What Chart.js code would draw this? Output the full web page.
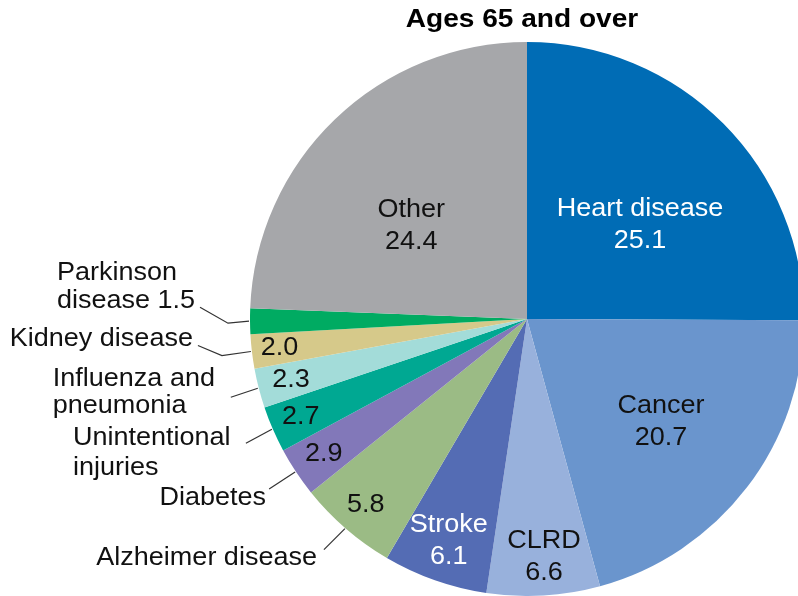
<!DOCTYPE html>
<html>
<head>
<meta charset="utf-8">
<script src="https://cdn.jsdelivr.net/npm/chart.js@4"></script>
<style>
    html, body { margin: 0; padding: 0; background: #fff; overflow: hidden; }
    #wrap { width: 820px; height: 596px; }
</style>
</head>
<body>
<div id="wrap"><canvas id="pieChart" width="820" height="596"></canvas></div>
<script>
    // Data
    const causes = ['Heart disease', 'Cancer', 'CLRD', 'Stroke', 'Alzheimer disease', 'Diabetes',
        'Unintentional injuries', 'Influenza and pneumonia', 'Kidney disease', 'Parkinson disease', 'Other'];
    const percents = [25.1, 20.7, 6.6, 6.1, 5.8, 2.9, 2.7, 2.3, 2.0, 1.5, 24.4];
    const sliceColors = ['#006cb5', '#6a95cd', '#98b1dc', '#546cb4', '#9bbb85', '#8278b9',
        '#00a892', '#a3dcd9', '#d6c98a', '#00ab62', '#a6a7aa'];
    const chartTitle = 'Ages 65 and over';

    // Label layout: inside labels sit at a fraction of the radius (plus a small nudge),
    // outside labels hang off a leader line from the slice edge
    const labelLayout = [
        { inside: 0.53, nudge: [9, 10], color: '#fff', name: true },
        { inside: 0.61, color: '#111', name: true },
        { inside: 0.85, nudge: [3, 3], color: '#111', name: true },
        { inside: 0.85, color: '#fff', name: true },
        { inside: 0.89, color: '#111', out: { lines: ['Alzheimer disease'], leader: [[-22, 21]], align: 'right', dx: -29, dy: [29] } },
        { inside: 0.88, color: '#111', out: { lines: ['Diabetes'], leader: [[-27, 17]], align: 'right', dx: -30, dy: [26] } },
        { inside: 0.89, color: '#111', out: { lines: ['Unintentional', 'injuries'], leader: [[-27, 14]], align: 'left', dx: -200, dy: [9, 39] } },
        { inside: 0.88, color: '#111', out: { lines: ['Influenza and', 'pneumonia'], leader: [[-28, 9]], align: 'left', dx: -206, dy: [-9, 18] } },
        { inside: 0.90, color: '#111', out: { lines: ['Kidney disease'], leader: [[-30, 4], [-54, -6]], align: 'right', dx: -59, dy: [-12] } },
        { inside: null, out: { lines: ['Parkinson', 'disease {v}'], leader: [[-22, 2], [-50, -14]], align: 'left', dx: -193, dy: [-48, -20] } },
        { inside: 0.54, nudge: [-12, 15], color: '#111', name: true }
    ];

    const FONT = '25px "Liberation Sans", Arial, sans-serif';
    const STRETCH = 1.08;

    function drawText(ctx, text, x, y, align) {
        ctx.save();
        ctx.translate(x, y);
        ctx.scale(STRETCH, 1);
        ctx.textAlign = align;
        ctx.fillText(text, 0, 0);
        ctx.restore();
    }

    const pieLabels = {
        id: 'pieLabels',
        afterDatasetsDraw(chart) {
            const ctx = chart.ctx;
            const meta = chart.getDatasetMeta(0);
            ctx.save();
            ctx.textBaseline = 'middle';

            meta.data.forEach((arc, i) => {
                const p = arc.getProps(['x', 'y', 'startAngle', 'endAngle', 'outerRadius'], true);
                const mid = (p.startAngle + p.endAngle) / 2;
                const cfg = labelLayout[i];
                const val = percents[i].toFixed(1);

                if (cfg.inside !== null) {
                    const r = p.outerRadius * cfg.inside;
                    const nudge = cfg.nudge || [0, 0];
                    const lx = p.x + Math.cos(mid) * r + nudge[0];
                    const ly = p.y + Math.sin(mid) * r + nudge[1];
                    ctx.font = FONT;
                    ctx.fillStyle = cfg.color;
                    if (cfg.name) {
                        drawText(ctx, causes[i], lx, ly - 16, 'center');
                        drawText(ctx, val, lx, ly + 16, 'center');
                    } else {
                        drawText(ctx, val, lx, ly, 'center');
                    }
                }

                if (cfg.out) {
                    const ex = p.x + Math.cos(mid) * p.outerRadius;
                    const ey = p.y + Math.sin(mid) * p.outerRadius;
                    ctx.strokeStyle = '#333';
                    ctx.lineWidth = 1.2;
                    ctx.beginPath();
                    ctx.moveTo(ex - 1, ey);
                    cfg.out.leader.forEach(pt => ctx.lineTo(ex + pt[0], ey + pt[1]));
                    ctx.stroke();
                    ctx.font = FONT;
                    ctx.fillStyle = '#111';
                    cfg.out.lines.forEach((line, k) => {
                        drawText(ctx, line.replace('{v}', val), ex + cfg.out.dx, ey + cfg.out.dy[k], cfg.out.align);
                    });
                }
            });

            // Title above the pie
            const area = chart.chartArea;
            ctx.font = 'bold 26px "Liberation Sans", Arial, sans-serif';
            ctx.fillStyle = '#000';
            drawText(ctx, chartTitle, (area.left + area.right) / 2 - 5, area.top - 22, 'center');
            ctx.restore();
        }
    };

    // Pie Chart
    const pieCtx = document.getElementById('pieChart').getContext('2d');
    new Chart(pieCtx, {
        type: 'pie',
        data: {
            labels: causes,
            datasets: [{
                data: percents,
                backgroundColor: sliceColors,
                borderWidth: 0,
            }]
        },
        options: {
            responsive: false,
            animation: false,
            layout: {
                padding: { left: 250, right: 16, top: 42, bottom: 0 }
            },
            plugins: {
                legend: {
                    display: false
                },
                tooltip: {
                    enabled: false
                }
            }
        },
        plugins: [pieLabels]
    });
</script>
</body>
</html>
